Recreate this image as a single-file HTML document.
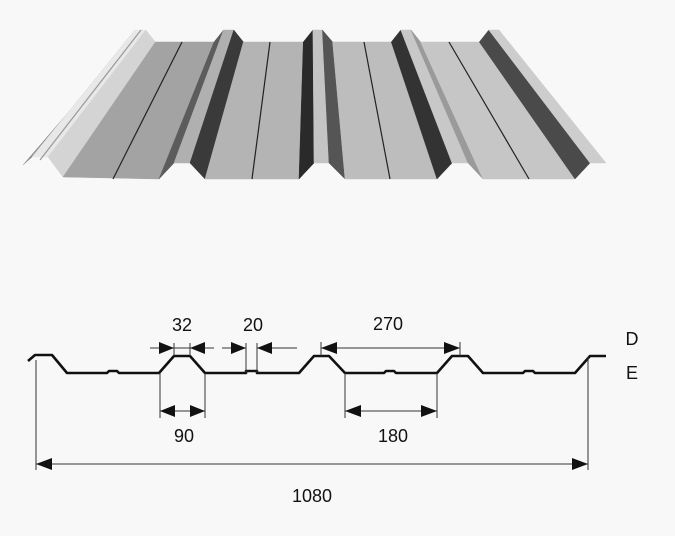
<!DOCTYPE html>
<html><head><meta charset="utf-8"><style>
html,body{margin:0;padding:0;background:#f8f8f8;}
svg{display:block;}
text{font-family:"Liberation Sans",sans-serif;font-size:18px;fill:#111;}
</style></head><body>
<svg width="675" height="536" viewBox="0 0 675 536" xmlns="http://www.w3.org/2000/svg">
<rect width="675" height="536" fill="#f8f8f8"/>
<g stroke-width="0.5">
<polygon points="130.5,40 135,30 32,157 23,165" fill="#8e8e8e" stroke="#8e8e8e"/>
<polygon points="135,30 145.8,30 48,157 32,157" fill="#e8e8e8" stroke="#e8e8e8"/>
<polygon points="145.8,30 155.4,42 63,177 48,157" fill="#d4d4d4" stroke="#d4d4d4"/>
<polygon points="155.4,42 214,42 159,179 63,177" fill="#a3a3a3" stroke="#a3a3a3"/>
<polygon points="214,42 223.6,30 174,163 159,179" fill="#5c5c5c" stroke="#5c5c5c"/>
<polygon points="223.6,30 233.8,30 190,163 174,163" fill="#b0b0b0" stroke="#b0b0b0"/>
<polygon points="233.8,30 243.4,42 205,179 190,163" fill="#3a3a3a" stroke="#3a3a3a"/>
<polygon points="243.4,42 303.3,42 299,179 205,179" fill="#b4b4b4" stroke="#b4b4b4"/>
<polygon points="303.3,42 312.9,30 314,163 299,179" fill="#2a2a2a" stroke="#2a2a2a"/>
<polygon points="312.9,30 322.4,30 329,163 314,163" fill="#c4c4c4" stroke="#c4c4c4"/>
<polygon points="322.4,30 332.6,42 345,179 329,163" fill="#555" stroke="#555"/>
<polygon points="332.6,42 391.3,42 437,179 345,179" fill="#bdbdbd" stroke="#bdbdbd"/>
<polygon points="391.3,42 400.8,30 452,163 437,179" fill="#333" stroke="#333"/>
<polygon points="400.8,30 411,30 468,163 452,163" fill="#c8c8c8" stroke="#c8c8c8"/>
<polygon points="411,30 420.6,42 483,179 468,163" fill="#9a9a9a" stroke="#9a9a9a"/>
<polygon points="420.6,42 479.3,42 575,179 483,179" fill="#c6c6c6" stroke="#c6c6c6"/>
<polygon points="479.3,42 488.8,30 590,163 575,179" fill="#4a4a4a" stroke="#4a4a4a"/>
<polygon points="488.8,30 499,30 606,163 590,163" fill="#cdcdcd" stroke="#cdcdcd"/>
</g>
<g stroke="#222" stroke-width="1.2" fill="none">
<line x1="182" y1="42" x2="113" y2="179"/>
<line x1="270" y1="42" x2="252" y2="179"/>
<line x1="364" y1="42" x2="390" y2="179"/>
<line x1="449" y1="42" x2="529" y2="179"/>
<line x1="141" y1="30" x2="40" y2="160" stroke="#999"/>
</g>
<path d="M28,361 L35,355 L52,355 L67,373 L107,373 L109,371 L117,371 L119,373 L159,373 L174,356 L190,356 L205,373 L246,373 L246,371 L257,371 L257,373 L299,373 L314,356 L329,356 L345,373 L384,373 L386,371 L394,371 L396,373 L437,373 L452,356 L468,356 L483,373 L523,373 L525,371 L533,371 L535,373 L575,373 L590,356 L606,356" fill="none" stroke="#111" stroke-width="2.6" stroke-linejoin="round"/>
<g stroke="#333" stroke-width="1" fill="none">
<line x1="174" y1="343" x2="174" y2="356"/><line x1="190" y1="343" x2="190" y2="356"/>
<line x1="150" y1="348" x2="214" y2="348"/>
<line x1="246" y1="343" x2="246" y2="373"/><line x1="257" y1="343" x2="257" y2="373"/>
<line x1="222" y1="348" x2="246" y2="348"/><line x1="257" y1="348" x2="297" y2="348"/>
<line x1="321" y1="342" x2="321" y2="356"/><line x1="460" y1="342" x2="460" y2="356"/>
<line x1="321" y1="348" x2="460" y2="348"/>
<line x1="160" y1="373" x2="160" y2="418"/><line x1="205" y1="373" x2="205" y2="418"/>
<line x1="160" y1="411" x2="205" y2="411"/>
<line x1="345" y1="373" x2="345" y2="418"/><line x1="437" y1="373" x2="437" y2="418"/>
<line x1="345" y1="411" x2="437" y2="411"/>
<line x1="36" y1="360" x2="36" y2="470"/><line x1="588" y1="357" x2="588" y2="470"/>
<line x1="36" y1="464" x2="588" y2="464"/>
</g>
<g fill="#111">
<polygon points="174,348 159,342 159,354"/>
<polygon points="190,348 205,342 205,354"/>
<polygon points="246,348 231,342 231,354"/>
<polygon points="257,348 272,342 272,354"/>
<polygon points="321,348 337,342 337,354"/>
<polygon points="460,348 444,342 444,354"/>
<polygon points="160,411 175,405 175,417"/>
<polygon points="205,411 190,405 190,417"/>
<polygon points="345,411 361,405 361,417"/>
<polygon points="437,411 421,405 421,417"/>
<polygon points="36,464 52,458 52,470"/>
<polygon points="588,464 572,458 572,470"/>
</g>
<text x="182" y="331" text-anchor="middle">32</text>
<text x="253" y="331" text-anchor="middle">20</text>
<text x="388" y="330" text-anchor="middle">270</text>
<text x="184" y="442" text-anchor="middle">90</text>
<text x="393" y="442" text-anchor="middle">180</text>
<text x="312" y="502" text-anchor="middle">1080</text>
<text x="632" y="345" text-anchor="middle">D</text>
<text x="632" y="379" text-anchor="middle">E</text>
</svg>
</body></html>
